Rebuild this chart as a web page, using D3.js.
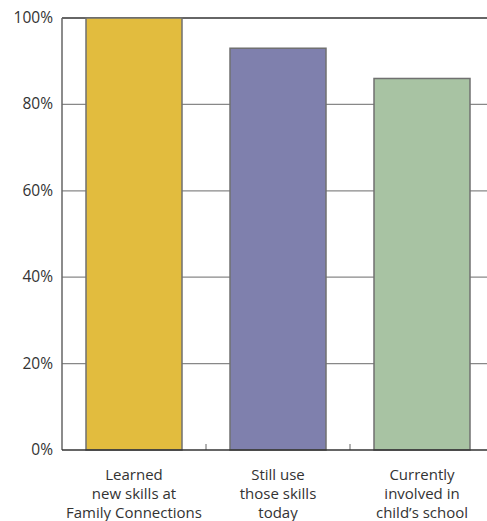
<!DOCTYPE html>
<html>
<head>
<meta charset="utf-8">
<script src="https://cdn.jsdelivr.net/npm/d3@7"></script>
<style>
  body { margin: 0; background: #fff; }
  text { font-family: "Open Sans", "DejaVu Sans", sans-serif; fill: #333; }
</style>
</head>
<body>
<svg id="chart" width="487" height="521"></svg>
<script>
// data
var categories = [
    ["Learned", "new skills at", "Family Connections"],
    ["Still use", "those skills", "today"],
    ["Currently", "involved in", "child\u2019s school"]
];
var values = [100, 93, 86];
var colors = ["#e2bc3e", "#7f80ad", "#a8c3a3"];
var yTicks = [0, 20, 40, 60, 80, 100];

(function () {
    "use strict";
    var svg = d3.select("#chart"),
        m = {left: 62, top: 18, bottom: 71},
        bottom = 521 - m.bottom,
        x, y;

    x = d3.scaleBand()
        .domain(d3.range(values.length))
        .range([m.left, m.left + 144 * values.length])
        .paddingInner(1 / 3)
        .paddingOuter(1 / 6);
    y = d3.scaleLinear().domain([0, 100]).range([bottom, m.top]);

    //gridlines behind bars
    svg.append("g").selectAll("line")
        .data(yTicks.filter(function (t) { return t > 0 && t < 100; }))
        .enter().append("line")
        .attr("x1", m.left).attr("x2", 487)
        .attr("y1", function (d) { return y(d); })
        .attr("y2", function (d) { return y(d); })
        .attr("stroke", "#888").attr("stroke-width", 1.2);

    svg.append("line")
        .attr("x1", m.left).attr("x2", 487)
        .attr("y1", y(100)).attr("y2", y(100))
        .attr("stroke", "#333").attr("stroke-width", 1.5);

    //small separator ticks between categories
    svg.append("g").selectAll("line")
        .data(d3.range(1, values.length))
        .enter().append("line")
        .attr("x1", function (i) { return m.left + 144 * i; })
        .attr("x2", function (i) { return m.left + 144 * i; })
        .attr("y1", bottom).attr("y2", bottom - 6)
        .attr("stroke", "#666").attr("stroke-width", 1);

    svg.append("g").selectAll("rect")
        .data(values)
        .enter().append("rect")
        .attr("x", function (d, i) { return x(i); })
        .attr("width", x.bandwidth())
        .attr("y", function (d) { return y(d); })
        .attr("height", function (d) { return bottom - y(d); })
        .attr("fill", function (d, i) { return colors[i]; })
        .attr("stroke", "#707070").attr("stroke-width", 1.5);

    //left axis and baseline
    svg.append("line")
        .attr("x1", m.left).attr("x2", m.left)
        .attr("y1", y(100)).attr("y2", bottom)
        .attr("stroke", "#666").attr("stroke-width", 1.5);
    svg.append("line")
        .attr("x1", m.left).attr("x2", 487)
        .attr("y1", bottom).attr("y2", bottom)
        .attr("stroke", "#333").attr("stroke-width", 1.5);

    svg.append("g").selectAll("text")
        .data(yTicks)
        .enter().append("text")
        .attr("x", m.left - 9)
        .attr("y", function (d) { return y(d) + 5; })
        .attr("text-anchor", "end")
        .attr("font-size", 15.5)
        .text(function (d) { return d + "%"; });

    svg.append("g").selectAll("text")
        .data(categories)
        .enter().append("text")
        .attr("text-anchor", "middle")
        .attr("font-size", 15)
        .each(function (lines, i) {
            var t = d3.select(this);
            lines.forEach(function (ln, j) {
                t.append("tspan")
                    .attr("x", x(i) + x.bandwidth() / 2)
                    .attr("y", bottom + 30 + j * 19)
                    .text(ln);
            });
        });
}());
</script>
</body>
</html>
